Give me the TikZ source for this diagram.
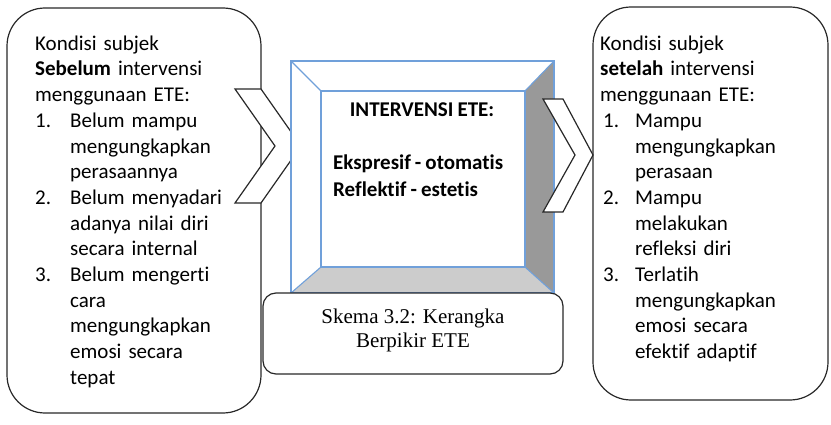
\documentclass[tikz,border=0pt]{standalone}
\usepackage{fontspec}
\setmainfont{Carlito}[Ligatures=NoCommon,WordSpace={0.85,0,0}]
\newfontfamily\capfont{Liberation Serif}
\definecolor{bevelblue}{RGB}{112,160,218}
\definecolor{darkbevel}{RGB}{153,153,153}
\definecolor{lightbevel}{RGB}{204,204,204}
\definecolor{edge}{RGB}{40,40,40}
\begin{document}
\begin{tikzpicture}[x=1pt,y=-1pt,
  roundbox/.style={draw=edge,line width=1.2pt,fill=white,rounded corners=38pt},
  capbox/.style={draw=edge,line width=1.2pt,fill=white,rounded corners=13pt},
  chev/.style={draw=edge,line width=1.2pt,fill=white,line join=miter},
  bevline/.style={draw=bevelblue,line width=1.1pt},
  txt/.style={inner sep=0pt,font=\fontsize{21}{25.7}\selectfont,align=left,text width=225pt},
  ctxt/.style={inner sep=0pt,font=\fontsize{21}{27}\selectfont\bfseries,align=left},
  captxt/.style={inner sep=0pt,font=\capfont\fontsize{21}{24}\selectfont,align=center}]
\useasboundingbox (0,0) rectangle (831,425);
% side boxes
\draw[roundbox] (7,8) rectangle (261,413);
\draw[roundbox] (593,7) rectangle (828,400);
\node[txt,anchor=north west] (lefttext) at (35,35.5) {Kondisi subjek\\
\textbf{Sebelum} intervensi\\
menggunaan ETE:\\
\makebox[35pt][l]{1.}Belum mampu\\
\hspace*{35pt}mengungkapkan\\
\hspace*{35pt}perasaannya\\
\makebox[35pt][l]{2.}Belum menyadari\\
\hspace*{35pt}adanya nilai diri\\
\hspace*{35pt}secara internal\\
\makebox[35pt][l]{3.}Belum mengerti\\
\hspace*{35pt}cara\\
\hspace*{35pt}mengungkapkan\\
\hspace*{35pt}emosi secara\\
\hspace*{35pt}tepat};
\node[txt,anchor=north west] (righttext) at (600,35.5) {Kondisi subjek\\
\textbf{setelah} intervensi\\
menggunaan ETE:\\
\hspace*{3pt}\makebox[32pt][l]{1.}Mampu\\
\hspace*{35pt}mengungkapkan\\
\hspace*{35pt}perasaan\\
\hspace*{3pt}\makebox[32pt][l]{2.}Mampu\\
\hspace*{35pt}melakukan\\
\hspace*{35pt}refleksi diri\\
\hspace*{3pt}\makebox[32pt][l]{3.}Terlatih\\
\hspace*{35pt}mengungkapkan\\
\hspace*{35pt}emosi secara\\
\hspace*{35pt}efektif adaptif};
% left chevron
\draw[chev] (235,89) -- (261,89) -- (301,146) -- (261,203) -- (235,203) -- (275,146) -- cycle;
% bevel box
\coordinate (otl) at (291,61); \coordinate (otr) at (554,61);
\coordinate (obr) at (554,293); \coordinate (obl) at (291,293);
\coordinate (itl) at (321,91); \coordinate (itr) at (525,91);
\coordinate (ibr) at (525,267); \coordinate (ibl) at (321,267);
\fill[white] (otl) rectangle (obr);
\fill[darkbevel] (otr) -- (obr) -- (ibr) -- (itr) -- cycle;
\fill[lightbevel] (obl) -- (obr) -- (ibr) -- (ibl) -- cycle;
\draw[bevline] (otl) rectangle (obr);
\draw[bevline] (itl) rectangle (ibr);
\draw[bevline] (otl) -- (itl) (otr) -- (itr) (obr) -- (ibr) (obl) -- (ibl);
\node[ctxt,anchor=center] (title) at (422,110) {INTERVENSI ETE:};
\node[ctxt,anchor=north west] (modes) at (333,154.5) {Ekspresif - otomatis\\ Reflektif - estetis};
% right chevron
\draw[chev] (543,99) -- (563,99) -- (593,155) -- (563,212) -- (543,212) -- (575,155) -- cycle;
% caption
\draw[capbox] (263,293) rectangle (563,374);
\node[captxt] (caption) at (413,330) {Skema 3.2: Kerangka\\ Berpikir ETE};
\end{tikzpicture}
\end{document}
